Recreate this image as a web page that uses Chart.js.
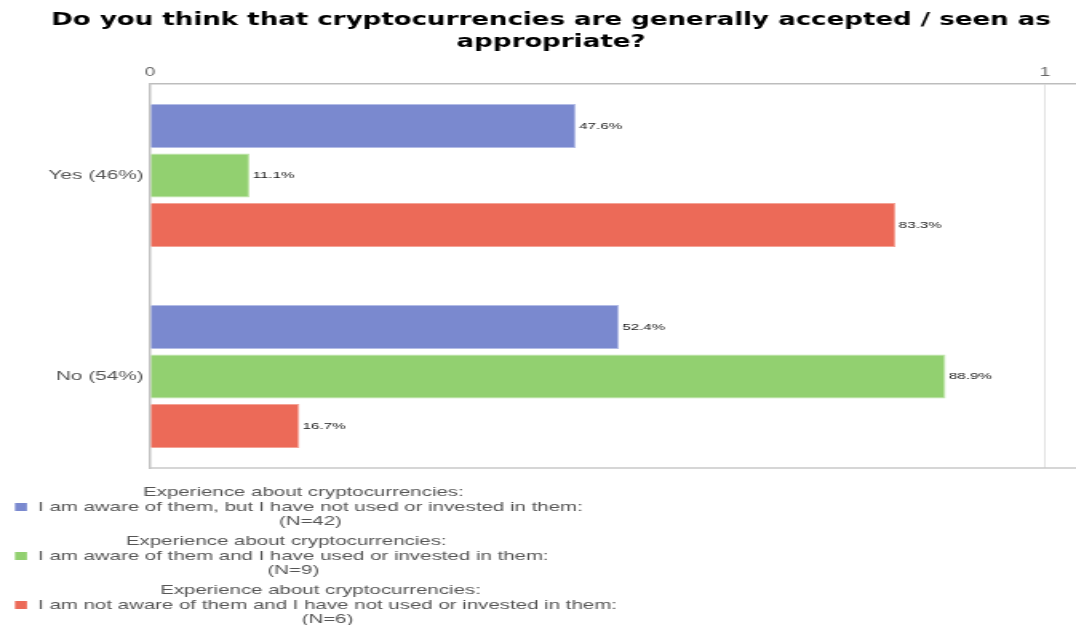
<!DOCTYPE html>
<html>
<head>
<meta charset="utf-8">
<script src="https://cdn.jsdelivr.net/npm/chart.js@4/dist/chart.umd.min.js"></script>
<style>
html,body{margin:0;padding:0;background:#fff;overflow:hidden;width:1076px;height:625px;}
#wrap{position:absolute;left:0;top:0;width:673px;height:625px;transform-origin:0 0;transform:scaleX(1.598811);}
canvas{display:block;}
</style>
</head>
<body>
<div id="wrap"><canvas id="c" width="673" height="625"></canvas></div>
<script>
// ---- data ----
const titleLines = ['Do you think that cryptocurrencies are generally accepted / seen as', 'appropriate?'];
const categories = ['Yes (46%)', 'No (54%)'];
const legendHeader = 'Experience about cryptocurrencies:';
const seriesNames = [
  'I am aware of them, but I have not used or invested in them:',
  'I am aware of them and I have used or invested in them:',
  'I am not aware of them and I have not used or invested in them:'
];
const seriesN = ['(N=42)', '(N=9)', '(N=6)'];
const awareNotUsed = [0.476, 0.524];
const awareUsed = [0.111, 0.889];
const notAware = [0.833, 0.167];
const xTickValues = [0, 1];

// ---- styling ----
const S = 1076 / 673;
const fills = ['#7A89CF', '#92D070', '#EC6A58'];
const edges = ['#B3BCE6', '#BDE4A6', '#F4A396'];
const seriesValues = [awareNotUsed, awareUsed, notAware];

const datasets = seriesValues.map((vals, k) => ({
  label: legendHeader + '\n' + seriesNames[k] + '\n' + seriesN[k],
  data: vals.map((v, i) => ({ x: v, y: i })),
  backgroundColor: fills[k],
  borderColor: edges[k],
  borderWidth: 1,
  categoryPercentage: 0.739,
  barPercentage: 0.889
}));

function hasFont(ctx, name) {
  const probe = 'abcdefghijklmnopqrstuvwxyz ABCDEFG 0123456789';
  ctx.font = 'bold 40px monospace';
  const a = ctx.measureText(probe).width;
  ctx.font = 'bold 40px "' + name + '", monospace';
  const b = ctx.measureText(probe).width;
  return Math.abs(a - b) > 0.5;
}

const titlePlugin = {
  id: 'fitTitle',
  afterDraw(chart) {
    const ctx = chart.ctx;
    ctx.save();
    const fam = hasFont(ctx, 'Liberation Sans Narrow') ? '"Liberation Sans Narrow"' : '"DejaVu Sans Condensed"';
    ctx.font = 'bold 20px ' + fam;
    const w = ctx.measureText(titleLines[0]).width;
    const size = 20 * (1000 / S) / w;
    ctx.font = 'bold ' + size.toFixed(2) + 'px ' + fam;
    ctx.fillStyle = '#000';
    ctx.textAlign = 'center';
    ctx.textBaseline = 'middle';
    titleLines.forEach((t, i) => ctx.fillText(t, 551 / S, 20 + i * 22));
    ctx.restore();
  }
};

const bottomLinePlugin = {
  id: 'bottomLine',
  beforeDatasetsDraw(chart) {
    const { ctx, chartArea } = chart;
    ctx.save();
    ctx.strokeStyle = '#c8c8c8';
    ctx.lineWidth = 1.5;
    ctx.beginPath();
    ctx.moveTo(chartArea.left, chartArea.bottom);
    ctx.lineTo(chartArea.right, chartArea.bottom);
    ctx.stroke();
    ctx.restore();
  }
};

const valueLabelPlugin = {
  id: 'valueLabels',
  afterDatasetsDraw(chart) {
    const ctx = chart.ctx;
    ctx.save();
    ctx.font = '9.5px "Liberation Sans"';
    ctx.fillStyle = '#1a1a1a';
    ctx.textAlign = 'left';
    ctx.textBaseline = 'middle';
    chart.data.datasets.forEach((ds, di) => {
      const meta = chart.getDatasetMeta(di);
      meta.data.forEach((el, i) => {
        const v = ds.data[i].x;
        ctx.fillText((v * 100).toFixed(1) + '%', el.x + 2, el.y);
      });
    });
    ctx.restore();
  }
};

const legendPlugin = {
  id: 'multiLegend',
  afterDraw(chart) {
    const ctx = chart.ctx;
    const boxX = 15 / S, boxW = 12 / S, textX = 38 / S;
    ctx.save();
    ctx.font = '12.8px "Liberation Sans"';
    ctx.textBaseline = 'middle';
    chart.data.datasets.forEach((ds, di) => {
      const lines = ds.label.split('\n');
      const y = 492 + di * 49;
      const tw = ctx.measureText(lines[1]).width;
      const textCenter = textX + tw / 2;
      ctx.fillStyle = '#555';
      ctx.textAlign = 'center';
      ctx.fillText(lines[0], textCenter - 7 / S, y);
      ctx.fillText(lines[2], textCenter, y + 29);
      ctx.fillStyle = ds.backgroundColor;
      ctx.fillRect(boxX, y + 15 - 4, boxW, 8);
      ctx.fillStyle = '#555';
      ctx.textAlign = 'left';
      ctx.fillText(lines[1], textX, y + 15);
    });
    ctx.restore();
  }
};

new Chart(document.getElementById('c'), {
  type: 'bar',
  data: { labels: categories, datasets },
  options: {
    indexAxis: 'y',
    responsive: false,
    animation: false,
    layout: { padding: { top: 0, left: 0, right: 0, bottom: 157 } },
    plugins: {
      legend: { display: false },
      title: { display: false },
      tooltip: { enabled: false }
    },
    scales: {
      x: {
        type: 'linear',
        position: 'top',
        min: 0,
        max: 1.0347,
        afterBuildTicks: (scale) => { scale.ticks = xTickValues.map(v => ({ value: v })); },
        afterFit: (scale) => { scale.height = 84; },
        ticks: {
          color: '#666',
          font: { family: 'Liberation Sans', size: 12 },
          padding: 4,
          callback: (v) => String(v)
        },
        grid: {
          drawTicks: false,
          color: (c) => (c.tick && c.tick.value === 1) ? '#e2e2e2' : 'rgba(0,0,0,0)'
        },
        border: { display: true, color: '#bdbdbd', width: 1.5 }
      },
      y: {
        type: 'linear',
        reverse: true,
        offset: false,
        min: -0.455,
        max: 1.455,
        afterBuildTicks: (scale) => { scale.ticks = categories.map((_, i) => ({ value: i })); },
        afterFit: (scale) => { scale.width = 150 / S; },
        ticks: {
          color: '#555',
          font: { family: 'Liberation Sans', size: 13 },
          padding: 4,
          callback: (v) => categories[v]
        },
        grid: { display: false, drawTicks: false, offset: false },
        border: { display: true, color: '#c4c4c4', width: 1.5 }
      }
    }
  },
  plugins: [bottomLinePlugin, valueLabelPlugin, legendPlugin, titlePlugin]
});
</script>
</body>
</html>
